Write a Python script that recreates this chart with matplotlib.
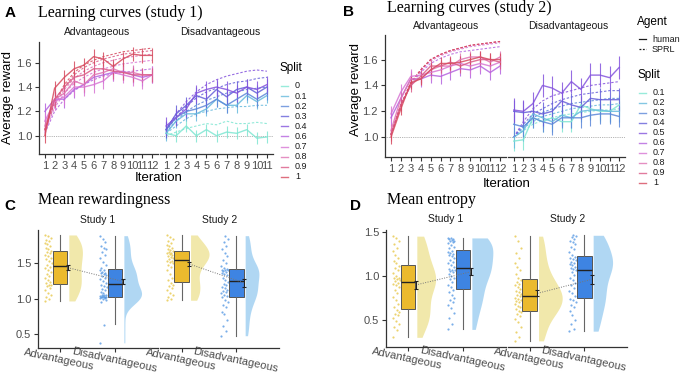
import matplotlib.pyplot as plt
import numpy as np
from matplotlib.colors import LinearSegmentedColormap
from matplotlib.lines import Line2D

plt.rcParams['font.family'] = ['Liberation Sans', 'DejaVu Sans']

W, H = 685, 377

# ---------------- learning curves: data ----------------
iters12 = list(range(1, 13))
iters11 = list(range(1, 12))

s1_splits = ['0', '0.1', '0.2', '0.3', '0.4', '0.6', '0.7', '0.8', '0.9', '1']
s2_splits = ['0.1', '0.2', '0.3', '0.4', '0.5', '0.6', '0.7', '0.8', '0.9', '1']

# study 1, advantageous (splits 0.6 .. 1)
s1_adv_human = [
    [1.20, 1.30, 1.30, 1.38, 1.42, 1.48, 1.50, 1.52, 1.53, 1.50, 1.48, 1.50],
    [1.12, 1.28, 1.32, 1.40, 1.40, 1.42, 1.45, 1.52, 1.50, 1.48, 1.45, 1.50],
    [1.08, 1.30, 1.35, 1.45, 1.42, 1.50, 1.52, 1.55, 1.52, 1.52, 1.50, 1.50],
    [1.05, 1.30, 1.40, 1.48, 1.50, 1.55, 1.55, 1.53, 1.52, 1.50, 1.50, 1.50],
    [1.00, 1.39, 1.48, 1.55, 1.58, 1.65, 1.63, 1.57, 1.63, 1.67, 1.66, 1.66],
]
s1_adv_err = [0.07, 0.07, 0.06, 0.06, 0.06]
s1_adv_sprl = [
    [1.02, 1.20, 1.30, 1.37, 1.42, 1.46, 1.49, 1.51, 1.52, 1.53, 1.54, 1.55],
    [1.03, 1.23, 1.35, 1.43, 1.48, 1.52, 1.55, 1.57, 1.59, 1.60, 1.61, 1.62],
    [1.04, 1.25, 1.38, 1.47, 1.53, 1.57, 1.60, 1.62, 1.64, 1.65, 1.66, 1.67],
    [1.05, 1.27, 1.40, 1.50, 1.56, 1.60, 1.63, 1.65, 1.67, 1.68, 1.69, 1.70],
    [1.05, 1.28, 1.42, 1.52, 1.58, 1.62, 1.65, 1.67, 1.69, 1.70, 1.71, 1.72],
]

# study 1, disadvantageous (splits 0 .. 0.4)
s1_dis_human = [
    [1.02, 1.00, 1.08, 1.00, 1.05, 1.00, 1.03, 1.02, 1.05, 0.98, 0.99],
    [1.02, 1.12, 1.18, 1.18, 1.22, 1.30, 1.25, 1.25, 1.33, 1.28, 1.33],
    [1.05, 1.15, 1.20, 1.22, 1.25, 1.30, 1.25, 1.30, 1.35, 1.30, 1.35],
    [1.05, 1.18, 1.25, 1.33, 1.30, 1.38, 1.32, 1.38, 1.40, 1.35, 1.40],
    [1.08, 1.15, 1.22, 1.35, 1.38, 1.40, 1.38, 1.35, 1.40, 1.38, 1.42],
]
s1_dis_err = [0.05, 0.06, 0.06, 0.07, 0.07]
s1_dis_sprl = [
    [1.00, 1.03, 1.06, 1.08, 1.10, 1.09, 1.12, 1.10, 1.10, 1.11, 1.10],
    [1.02, 1.08, 1.14, 1.18, 1.20, 1.22, 1.23, 1.24, 1.24, 1.25, 1.25],
    [1.03, 1.12, 1.20, 1.25, 1.29, 1.32, 1.35, 1.36, 1.38, 1.39, 1.40],
    [1.04, 1.15, 1.24, 1.31, 1.36, 1.39, 1.42, 1.44, 1.45, 1.47, 1.48],
    [1.05, 1.18, 1.28, 1.36, 1.42, 1.46, 1.49, 1.51, 1.53, 1.54, 1.53],
]

# study 2, advantageous (splits 0.6 .. 1)
s2_adv_human = [
    [1.15, 1.30, 1.45, 1.45, 1.48, 1.47, 1.50, 1.53, 1.52, 1.55, 1.50, 1.55],
    [1.18, 1.35, 1.47, 1.48, 1.50, 1.52, 1.55, 1.57, 1.55, 1.57, 1.55, 1.58],
    [1.05, 1.30, 1.45, 1.45, 1.52, 1.55, 1.55, 1.60, 1.62, 1.62, 1.58, 1.62],
    [1.02, 1.25, 1.40, 1.47, 1.55, 1.55, 1.58, 1.55, 1.58, 1.60, 1.60, 1.58],
    [1.00, 1.22, 1.42, 1.45, 1.52, 1.57, 1.57, 1.58, 1.60, 1.62, 1.60, 1.60],
]
s2_adv_err = [0.06, 0.06, 0.05, 0.05, 0.05]
s2_adv_sprl = [
    [1.02, 1.24, 1.40, 1.50, 1.57, 1.61, 1.64, 1.66, 1.67, 1.68, 1.69, 1.70],
    [1.02, 1.25, 1.41, 1.51, 1.59, 1.63, 1.66, 1.68, 1.70, 1.71, 1.72, 1.73],
    [1.02, 1.25, 1.42, 1.52, 1.60, 1.64, 1.67, 1.69, 1.71, 1.72, 1.73, 1.74],
    [1.02, 1.25, 1.42, 1.52, 1.60, 1.64, 1.67, 1.69, 1.71, 1.72, 1.73, 1.74],
    [1.02, 1.25, 1.42, 1.52, 1.60, 1.64, 1.67, 1.69, 1.71, 1.72, 1.73, 1.74],
]

# study 2, disadvantageous (splits 0.1 .. 0.5)
s2_dis_human = [
    [0.97, 0.98, 1.15, 1.12, 1.15, 1.12, 1.12, 1.25, 1.22, 1.20, 1.20, 1.25],
    [1.00, 1.05, 1.18, 1.15, 1.12, 1.17, 1.15, 1.20, 1.21, 1.21, 1.20, 1.20],
    [1.10, 1.08, 1.15, 1.12, 1.10, 1.15, 1.15, 1.15, 1.17, 1.18, 1.18, 1.16],
    [1.20, 1.19, 1.20, 1.18, 1.20, 1.28, 1.25, 1.23, 1.30, 1.29, 1.29, 1.29],
    [1.21, 1.20, 1.26, 1.40, 1.38, 1.34, 1.43, 1.37, 1.48, 1.48, 1.46, 1.54],
]
s2_dis_err = [0.08, 0.08, 0.08, 0.09, 0.09]
s2_dis_sprl = [
    [1.00, 1.05, 1.10, 1.13, 1.15, 1.17, 1.18, 1.19, 1.20, 1.21, 1.21, 1.22],
    [1.00, 1.07, 1.12, 1.16, 1.18, 1.20, 1.22, 1.23, 1.24, 1.25, 1.25, 1.26],
    [1.00, 1.08, 1.15, 1.19, 1.22, 1.24, 1.26, 1.27, 1.28, 1.29, 1.30, 1.30],
    [1.00, 1.10, 1.18, 1.22, 1.26, 1.29, 1.31, 1.33, 1.34, 1.35, 1.36, 1.36],
    [1.00, 1.12, 1.22, 1.28, 1.32, 1.34, 1.36, 1.38, 1.40, 1.41, 1.42, 1.43],
]

# ---------------- raincloud data (per participant means) ----------------
cond_labels = ['Advantageous', 'Disadvantageous']

rew_s1_adv = [0.97, 1.00, 1.02, 1.05, 1.08, 1.12, 1.15, 1.18, 1.20, 1.20,
              1.22, 1.24, 1.27, 1.30, 1.32, 1.35, 1.38, 1.40, 1.43, 1.45,
              1.48, 1.50, 1.53, 1.56, 1.58, 1.60, 1.62, 1.64, 1.66, 1.67,
              1.70, 1.72, 1.74, 1.77, 1.79, 1.81, 1.83, 1.86, 1.88, 1.90]
rew_s1_dis = [0.38, 0.63, 0.95, 0.98, 1.00, 1.01, 1.01, 1.02, 1.02, 1.02, 1.03, 1.03,
              1.04, 1.04, 1.05, 1.05, 1.06, 1.08, 1.10, 1.12, 1.14, 1.16, 1.18, 1.20,
              1.22, 1.25, 1.28, 1.30, 1.32, 1.33, 1.35, 1.36, 1.37, 1.38, 1.40, 1.41,
              1.44, 1.48, 1.52, 1.57, 1.62, 1.66, 1.70, 1.72, 1.75, 1.80, 1.85, 1.89]
rew_s2_adv = [0.98, 1.00, 1.02, 1.05, 1.08, 1.12, 1.15, 1.18, 1.20, 1.22,
              1.26, 1.30, 1.35, 1.40, 1.45, 1.48, 1.50, 1.52, 1.53, 1.54,
              1.56, 1.58, 1.59, 1.60, 1.62, 1.63, 1.64, 1.65, 1.66, 1.67,
              1.69, 1.70, 1.72, 1.74, 1.76, 1.78, 1.81, 1.84, 1.87, 1.90]
rew_s2_dis = [0.48, 0.55, 0.62, 0.70, 0.78, 0.82, 0.88, 0.92, 0.96, 0.99, 1.02,
              1.04, 1.06, 1.08, 1.10, 1.11, 1.13, 1.15, 1.17, 1.19, 1.21, 1.24,
              1.27, 1.30, 1.33, 1.35, 1.37, 1.38, 1.39, 1.40, 1.40, 1.41, 1.42,
              1.44, 1.46, 1.50, 1.55, 1.60, 1.65, 1.70, 1.75, 1.80, 1.85, 1.89]

ent_s1_adv = [0.30, 0.38, 0.42, 0.45, 0.48, 0.52, 0.55, 0.57, 0.59, 0.61,
              0.64, 0.68, 0.72, 0.76, 0.80, 0.84, 0.87, 0.89, 0.91, 0.92,
              0.94, 0.95, 0.96, 0.97, 0.98, 1.00, 1.03, 1.06, 1.09, 1.11,
              1.14, 1.17, 1.20, 1.24, 1.28, 1.32, 1.36, 1.40, 1.43, 1.45]
ent_s1_dis = [0.39, 0.45, 0.52, 0.58, 0.63, 0.67, 0.70, 0.72, 0.75, 0.78, 0.81, 0.84,
              0.87, 0.90, 0.93, 0.96, 0.98, 1.00, 1.02, 1.04, 1.05, 1.06, 1.07, 1.08,
              1.10, 1.12, 1.14, 1.16, 1.18, 1.20, 1.22, 1.24, 1.25, 1.26, 1.27, 1.28,
              1.31, 1.33, 1.35, 1.37, 1.38, 1.39, 1.40, 1.41, 1.42, 1.42, 1.43, 1.43]
ent_s2_adv = [0.26, 0.30, 0.36, 0.42, 0.47, 0.51, 0.54, 0.57, 0.59, 0.60,
              0.62, 0.64, 0.66, 0.68, 0.70, 0.71, 0.72, 0.74, 0.75, 0.77,
              0.78, 0.79, 0.81, 0.83, 0.85, 0.87, 0.89, 0.91, 0.93, 0.95,
              0.98, 1.02, 1.06, 1.10, 1.15, 1.20, 1.26, 1.32, 1.39, 1.45]
ent_s2_dis = [0.37, 0.40, 0.45, 0.50, 0.55, 0.60, 0.64, 0.67, 0.70, 0.72, 0.74,
              0.77, 0.80, 0.83, 0.86, 0.89, 0.92, 0.95, 0.98, 1.01, 1.04, 1.06,
              1.08, 1.09, 1.10, 1.12, 1.13, 1.15, 1.16, 1.18, 1.19, 1.20, 1.21,
              1.24, 1.27, 1.30, 1.33, 1.36, 1.38, 1.40, 1.42, 1.44, 1.45, 1.46]

# box stats: q1, median, q3, lower whisker, upper whisker  (Adv, Dis)
rew_s1_box = [(1.21, 1.46, 1.68, 0.97, 1.90), (1.03, 1.21, 1.42, 0.64, 1.89)]
rew_s2_box = [(1.24, 1.55, 1.68, 0.98, 1.90), (1.03, 1.25, 1.42, 0.48, 1.89)]
ent_s1_box = [(0.62, 0.93, 1.12, 0.30, 1.45), (0.85, 1.09, 1.29, 0.39, 1.43)]
ent_s2_box = [(0.60, 0.775, 0.96, 0.26, 1.45), (0.745, 1.07, 1.22, 0.37, 1.46)]

# mean and standard error
rew_s1_mean, rew_s1_se = [1.44, 1.245], [0.03, 0.03]
rew_s2_mean, rew_s2_se = [1.49, 1.225], [0.03, 0.055]
ent_s1_mean, ent_s1_se = [0.895, 1.045], [0.04, 0.04]
ent_s2_mean, ent_s2_se = [0.80, 0.96], [0.035, 0.05]

# ---------------- styling ----------------
split_cmap = LinearSegmentedColormap.from_list(
    'split', ['#7FE6D2', '#62B4DE', '#5A78D8', '#6A52DA', '#9A55E0',
              '#D474DE', '#E07AC0', '#DA5C8C', '#D64A5E'])
yellow, yellow_light, yellow_pt = '#EBBA2E', '#EFE49C', '#E6C440'
blue, blue_light, blue_pt = '#3E84E2', '#A3D1F2', '#4C93E2'
tick_col = '#4D4D4D'


def px(x, y):
    return x / W, 1 - y / H


def add_axes(x0, x1, y0, y1):
    l, t = px(x0, y0)
    r, b = px(x1, y1)
    return fig.add_axes([l, b, r - l, t - b])


def style(ax, show_y=True):
    for s in ['top', 'right']:
        ax.spines[s].set_visible(False)
    ax.spines['bottom'].set_color('#333333')
    ax.spines['left'].set_color('#333333')
    ax.spines['bottom'].set_linewidth(0.9)
    ax.spines['left'].set_linewidth(0.9)
    ax.tick_params(length=3, width=0.8, color='#333333', labelcolor=tick_col,
                   labelsize=8, pad=2)
    if not show_y:
        ax.spines['left'].set_visible(False)
        ax.set_yticks([])


def split_colors(labels, splits):
    return [split_cmap(splits.index(s) / (len(splits) - 1)) for s in labels]


def draw_curves(ax, x, human, err, sprl, colors, xlim, ylim):
    ax.axhline(1.0, color='#9A9A9A', lw=0.6, ls=(0, (1, 1.2)), zorder=0)
    for h, e, s, c in zip(human, err, sprl, colors):
        ax.plot(x, s, color=c, lw=0.8, ls=(0, (2.2, 1.6)), alpha=0.85)
        ax.errorbar(x, h, yerr=e, color=c, lw=1.0, elinewidth=0.8, alpha=0.85)
    ax.set_xlim(*xlim)
    ax.set_ylim(*ylim)
    ax.set_xticks(x)
    ax.set_xticklabels([str(i) for i in x])
    ax.tick_params(axis='x', labelsize=8, pad=1)


def kde(vals, n=200):
    v = np.asarray(vals, dtype=float)
    sd = v.std(ddof=1)
    q75, q25 = np.percentile(v, [75, 25])
    bw = 0.9 * min(sd, (q75 - q25) / 1.34) * len(v) ** -0.2
    grid = np.linspace(v.min(), v.max(), n)
    d = np.exp(-0.5 * ((grid[:, None] - v[None, :]) / bw) ** 2).sum(1)
    return grid, d / (len(v) * bw * np.sqrt(2 * np.pi))


def draw_rain(ax, groups, boxes, means, ses, scale, ylim, yticks, show_y):
    fills = [yellow, blue]
    lights = [yellow_light, blue_light]
    pts_c = [yellow_pt, blue_pt]
    for i, (vals, bx) in enumerate(zip(groups, boxes)):
        pos = i + 1
        grid, dens = kde(vals)
        ax.fill_betweenx(grid, pos + 0.16, pos + 0.16 + dens * scale,
                         color=lights[i], lw=0, alpha=0.85, zorder=1)
        jit = pos - 0.28 + 0.13 * ((np.arange(len(vals)) * 0.618) % 1)
        ax.scatter(jit, vals, s=2.5, color=pts_c[i], lw=0, alpha=0.75, zorder=2)
        q1, med, q3, lo, hi = bx
        stats = [dict(q1=q1, med=med, q3=q3, whislo=lo, whishi=hi, fliers=[])]
        ax.bxp(stats, positions=[pos], widths=0.27, patch_artist=True,
               showcaps=False, manage_ticks=False,
               boxprops=dict(facecolor=fills[i], edgecolor='#555555', lw=0.7),
               whiskerprops=dict(color='#666666', lw=0.8),
               medianprops=dict(color='#222222', lw=1.0))
    xm = [1.14, 2.14]
    ax.plot(xm, means, color='#777777', lw=0.7, ls=(0, (1, 1.5)), zorder=3)
    ax.errorbar(xm, means, yerr=ses, fmt='none', ecolor='#222222',
                elinewidth=0.8, capsize=1.5, capthick=0.8, zorder=4)
    ax.set_xlim(0.6, 2.78)
    ax.set_ylim(*ylim)
    ax.set_xticks([1, 2])
    ax.set_xticklabels(cond_labels, rotation=-12, ha='center',
                       rotation_mode='anchor', fontsize=8, color=tick_col)
    style(ax, show_y)
    if show_y:
        ax.set_yticks(yticks)
        ax.set_yticklabels([f'{t:.1f}' for t in yticks])


def text(x, y, s, **kw):
    fig.text(*px(x, y), s, **kw)


fig = plt.figure(figsize=(6.85, 3.77), dpi=100)
serif = ['Liberation Serif', 'DejaVu Serif']

# ---------------- panel A ----------------
ylim_a = (0.85, 1.77)
ax = add_axes(39, 158, 42, 154)
draw_curves(ax, iters12, s1_adv_human, s1_adv_err, s1_adv_sprl,
            split_colors(['0.6', '0.7', '0.8', '0.9', '1'], s1_splits),
            (0.4, 12.6), ylim_a)
style(ax)
ax.set_yticks([1.0, 1.2, 1.4, 1.6])
ax = add_axes(160, 273, 42, 154)
draw_curves(ax, iters11, s1_dis_human, s1_dis_err, s1_dis_sprl,
            split_colors(['0', '0.1', '0.2', '0.3', '0.4'], s1_splits),
            (0.4, 11.6), ylim_a)
style(ax, False)

text(5, 13, 'A', fontsize=11, fontweight='bold', va='center')
text(38, 13, 'Learning curves (study 1)', fontsize=11.5, family=serif, va='center')
text(97, 32, 'Advantageous', fontsize=7.5, ha='center', va='center', color='#1A1A1A')
text(220, 32, 'Disadvantageous', fontsize=7.5, ha='center', va='center', color='#1A1A1A')
text(8, 98, 'Average reward', fontsize=9.5, rotation=90, ha='center', va='center')
text(159, 178, 'Iteration', fontsize=9.5, ha='center', va='center')

# ---------------- panel B ----------------
ylim_b = (0.847, 1.79)
ax = add_axes(385, 506, 35, 157)
draw_curves(ax, iters12, s2_adv_human, s2_adv_err, s2_adv_sprl,
            split_colors(['0.6', '0.7', '0.8', '0.9', '1'], s2_splits),
            (0.4, 12.6), ylim_b)
style(ax)
ax.set_yticks([1.0, 1.2, 1.4, 1.6])
ax = add_axes(508, 625, 35, 157)
draw_curves(ax, iters12, s2_dis_human, s2_dis_err, s2_dis_sprl,
            split_colors(['0.1', '0.2', '0.3', '0.4', '0.5'], s2_splits),
            (0.4, 12.6), ylim_b)
style(ax, False)

text(343, 12, 'B', fontsize=11, fontweight='bold', va='center')
text(387, 8, 'Learning curves (study 2)', fontsize=11.5, family=serif, va='center')
text(446, 26, 'Advantageous', fontsize=7.5, ha='center', va='center', color='#1A1A1A')
text(568, 26, 'Disadvantageous', fontsize=7.5, ha='center', va='center', color='#1A1A1A')
text(356, 90, 'Average reward', fontsize=9.5, rotation=90, ha='center', va='center')
text(507, 184, 'Iteration', fontsize=9.5, ha='center', va='center')

# ---------------- legends ----------------
def split_legend(x, y_title, y0, step, splits):
    text(x, y_title, 'Split', fontsize=8.5, va='center')
    for i, s in enumerate(splits):
        y = y0 + i * step
        c = split_cmap(i / (len(splits) - 1))
        fig.add_artist(Line2D([(x + 2) / W, (x + 9) / W], [1 - y / H] * 2,
                              color=c, lw=1.0, alpha=0.8))
        text(x + 16, y, s, fontsize=6.5, va='center', color='#1A1A1A')


split_legend(279, 68, 86, 10.1, s1_splits)
split_legend(637, 75, 92.7, 10.0, s2_splits)

text(637, 22, 'Agent', fontsize=8.5, va='center')
for y, lab, ls in [(39, 'human', '-'), (49, 'SPRL', (0, (1.5, 1.2)))]:
    fig.add_artist(Line2D([639 / W, 646 / W], [1 - y / H] * 2, color='#1A1A1A',
                          lw=0.9, ls=ls))
    text(652, y, lab, fontsize=6.5, va='center', color='#1A1A1A')

# ---------------- panel C ----------------
ylim_c = (0.307, 1.97)
ax = add_axes(38, 158, 230, 348)
draw_rain(ax, [rew_s1_adv, rew_s1_dis], rew_s1_box, rew_s1_mean, rew_s1_se,
          0.22, ylim_c, [0.5, 1.0, 1.5], True)
ax = add_axes(160, 279, 230, 348)
draw_rain(ax, [rew_s2_adv, rew_s2_dis], rew_s2_box, rew_s2_mean, rew_s2_se,
          0.22, ylim_c, [0.5, 1.0, 1.5], False)

text(4, 206, 'C', fontsize=11, fontweight='bold', va='center')
text(38, 200, 'Mean rewardingness', fontsize=11.5, family=serif, va='center')
text(98, 220, 'Study 1', fontsize=7.5, ha='center', va='center', color='#1A1A1A')
text(220, 220, 'Study 2', fontsize=7.5, ha='center', va='center', color='#1A1A1A')

# ---------------- panel D ----------------
ylim_d = (0.19, 1.52)
ax = add_axes(386, 506, 230, 347)
draw_rain(ax, [ent_s1_adv, ent_s1_dis], ent_s1_box, ent_s1_mean, ent_s1_se,
          0.3, ylim_d, [0.5, 1.0, 1.5], True)
ax = add_axes(508, 627, 230, 347)
draw_rain(ax, [ent_s2_adv, ent_s2_dis], ent_s2_box, ent_s2_mean, ent_s2_se,
          0.3, ylim_d, [0.5, 1.0, 1.5], False)

text(350, 206, 'D', fontsize=11, fontweight='bold', va='center')
text(387, 200, 'Mean entropy', fontsize=11.5, family=serif, va='center')
text(446, 219, 'Study 1', fontsize=7.5, ha='center', va='center', color='#1A1A1A')
text(568, 219, 'Study 2', fontsize=7.5, ha='center', va='center', color='#1A1A1A')

fig.savefig('out.png', dpi=100)
